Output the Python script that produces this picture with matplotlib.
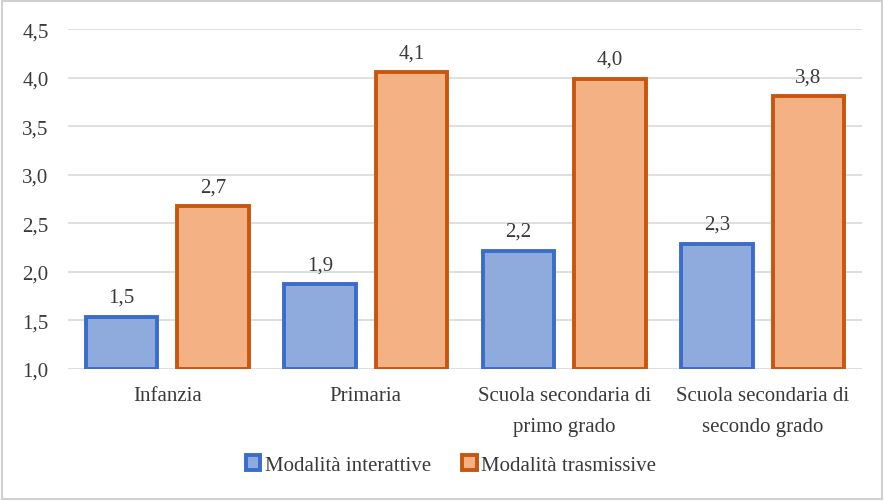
import matplotlib.pyplot as plt
import numpy as np

plt.rcParams['font.family'] = ['Liberation Serif', 'DejaVu Serif']

categories = ['Infanzia', 'Primaria', 'Scuola secondaria di\nprimo grado',
              'Scuola secondaria di\nsecondo grado']
interattive = [1.54, 1.87, 2.22, 2.29]
trasmissive = [2.68, 4.06, 3.99, 3.81]
yticks = [1.0, 1.5, 2.0, 2.5, 3.0, 3.5, 4.0, 4.5]

text_col = '#3a3a3a'
fs = 15

fig = plt.figure(figsize=(8.84, 5.02), dpi=100)
ax = fig.add_axes([0.077, 0.263, 0.898, 0.677])

x = np.arange(len(categories))
w = 0.36
off = 0.23
b1 = ax.bar(x - off, [v - 1 for v in interattive], w, bottom=1,
            color='#8faadc', edgecolor='#3b6cc9', linewidth=2.8,
            label='Modalità interattive', zorder=3)
b2 = ax.bar(x + off, [v - 1 for v in trasmissive], w, bottom=1,
            color='#f4b183', edgecolor='#c8560f', linewidth=2.8,
            label='Modalità trasmissive', zorder=3)

for bars, vals in ((b1, interattive), (b2, trasmissive)):
    for rect, v in zip(bars, vals):
        ax.text(rect.get_x() + rect.get_width() / 2, v + 0.1,
                f'{v:.1f}'.replace('.', ','), ha='center', va='bottom',
                fontsize=fs, color=text_col)

ax.set_xlim(-0.5, 3.5)
ax.set_ylim(1.0, 4.5)
ax.set_yticks(yticks)
ax.set_yticklabels([f'{t:.1f}'.replace('.', ',') for t in yticks],
                   fontsize=fs, color=text_col)
ax.set_xticks(x)
ax.set_xticklabels(categories, fontsize=fs, color=text_col, linespacing=1.85)
ax.tick_params(axis='y', length=0, pad=14)
ax.tick_params(axis='x', length=0, pad=12)
ax.yaxis.grid(True, color='#d9d9d9', linewidth=1.2, zorder=0)
for s in ax.spines.values():
    s.set_visible(False)

fig.legend(loc='center', bbox_to_anchor=(0.51, 0.072), ncol=2, frameon=False,
           fontsize=fs, handlelength=0.7, handleheight=0.7, handletextpad=0.2,
           columnspacing=1.5, labelcolor=text_col)

# light frame around the whole figure
fig.patches.append(plt.Rectangle((0.002, 0.004), 0.996, 0.992, transform=fig.transFigure,
                                 fill=False, edgecolor='#d0d0d0', linewidth=1.5))

fig.savefig('out.png', dpi=100)
